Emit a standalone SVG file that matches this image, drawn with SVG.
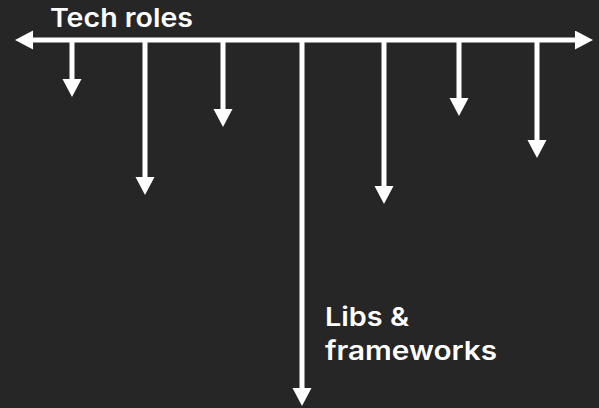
<svg xmlns="http://www.w3.org/2000/svg" width="599" height="408" viewBox="0 0 599 408">
<style>
.ln{stroke:#fff;stroke-width:5;fill:none;marker-end:url(#ah)}
.t{font-family:Inter,"Open Sans","Liberation Sans",sans-serif;font-weight:600;font-size:26px;fill:#fff}
</style>
<defs>
<marker id="ah" markerUnits="userSpaceOnUse" markerWidth="19" markerHeight="20" refX="0" refY="9.5" orient="auto-start-reverse">
<path d="M0,0 L18,9.5 L0,19 z" fill="#fff"/>
</marker>
</defs>
<rect width="599" height="408" fill="#262626"/>
<g id="connectors">
<path class="ln" style="marker-start:url(#ah)" d="M33,40 H575"/>
<path class="ln" d="M72,40 V79"/>
<path class="ln" d="M145,40 V177"/>
<path class="ln" d="M223,40 V109"/>
<path class="ln" d="M302,40 V388"/>
<path class="ln" d="M384,40 V186"/>
<path class="ln" d="M459,40 V98"/>
<path class="ln" d="M537,40 V140"/>
</g>
<g id="title"><text class="t" x="50" y="27" textLength="143" lengthAdjust="spacingAndGlyphs">Tech roles</text></g>
<g id="libs"><text class="t" x="325" y="326" textLength="84" lengthAdjust="spacingAndGlyphs">Libs &amp;</text>
<text class="t" x="325" y="360" textLength="172" lengthAdjust="spacingAndGlyphs">frameworks</text></g>
</svg>
